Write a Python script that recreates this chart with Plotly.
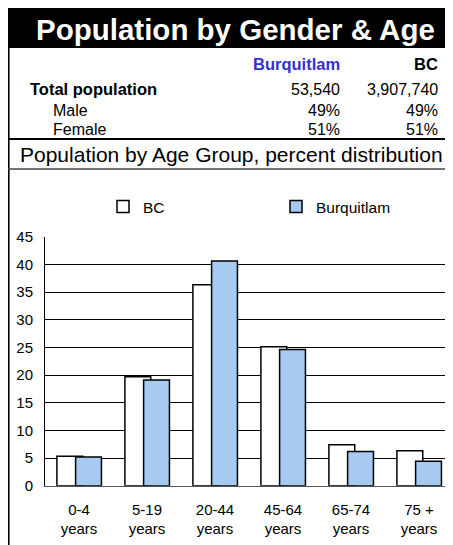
import plotly.graph_objects as go

# page has an 8px body margin, so the figure is sized/positioned to compensate
OFF = 8
PAGE_W, PAGE_H = 453, 545
W, H = PAGE_W - OFF, PAGE_H - OFF

age_groups = ["0-4<br>years", "5-19<br>years", "20-44<br>years", "45-64<br>years", "65-74<br>years", "75 +<br>years"]
bc_values = [5.3, 19.7, 36.3, 25.1, 7.4, 6.3]
burq_values = [5.2, 19.1, 40.6, 24.6, 6.2, 4.4]

table_cols = ["Burquitlam", "BC"]
table_rows = ["Total population", "Male", "Female"]
burq_table = ["53,540", "49%", "51%"]
bc_table = ["3,907,740", "49%", "51%"]

title = "Population by Gender & Age"
subtitle = "Population by Age Group, percent distribution"

FONT = "Arial, 'Liberation Sans', sans-serif"
BLUE = "#A6CAF0"


def px(x):
    return (x - OFF) / W


def py(y):
    return 1 - (y - OFF) / H


fig = go.Figure()
fig.add_trace(go.Bar(
    name="BC", x=age_groups, y=bc_values,
    marker=dict(color="white", line=dict(color="black", width=1.5)),
    width=0.38, offset=-0.325,
))
fig.add_trace(go.Bar(
    name="Burquitlam", x=age_groups, y=burq_values,
    marker=dict(color=BLUE, line=dict(color="black", width=1.5)),
    width=0.38, offset=-0.05,
))

shapes = [
    # black title band
    dict(type="rect", xref="paper", yref="paper", x0=px(8), x1=px(PAGE_W + 2), y0=py(48), y1=py(8),
         fillcolor="black", line=dict(width=0), layer="below"),
    # left border
    dict(type="line", xref="paper", yref="paper", x0=px(8.8), x1=px(8.8), y0=py(48), y1=py(PAGE_H + 2),
         line=dict(color="black", width=1.6)),
    # separators
    dict(type="line", xref="paper", yref="paper", x0=px(8), x1=px(PAGE_W + 2), y0=py(139), y1=py(139),
         line=dict(color="black", width=2)),
    dict(type="line", xref="paper", yref="paper", x0=px(8), x1=px(PAGE_W + 2), y0=py(169), y1=py(169),
         line=dict(color="#444444", width=1.5)),
]

ann = []
ann.append(dict(text="<b>" + title + "</b>", x=px(236), y=py(29), xref="paper", yref="paper",
                showarrow=False, xanchor="center", yanchor="middle",
                font=dict(family=FONT, size=29.5, color="white")))
# table headers
ann.append(dict(text="<b>" + table_cols[0] + "</b>", x=px(342), y=py(64), xref="paper", yref="paper",
                showarrow=False, xanchor="right", yanchor="middle",
                font=dict(family=FONT, size=16.5, color="#3333CC")))
ann.append(dict(text="<b>" + table_cols[1] + "</b>", x=px(440), y=py(64), xref="paper", yref="paper",
                showarrow=False, xanchor="right", yanchor="middle",
                font=dict(family=FONT, size=16.5, color="black")))
row_y = [89, 110, 129]
row_x = [28, 51, 51]
for i, r in enumerate(table_rows):
    label = "<b>" + r + "</b>" if i == 0 else r
    ann.append(dict(text=label, x=px(row_x[i]), y=py(row_y[i]), xref="paper", yref="paper",
                    showarrow=False, xanchor="left", yanchor="middle",
                    font=dict(family=FONT, size=16.5 if i == 0 else 16, color="black")))
    ann.append(dict(text=burq_table[i], x=px(342), y=py(row_y[i]), xref="paper", yref="paper",
                    showarrow=False, xanchor="right", yanchor="middle",
                    font=dict(family=FONT, size=16, color="black")))
    ann.append(dict(text=bc_table[i], x=px(440), y=py(row_y[i]), xref="paper", yref="paper",
                    showarrow=False, xanchor="right", yanchor="middle",
                    font=dict(family=FONT, size=16, color="black")))
ann.append(dict(text=subtitle, x=px(231.5), y=py(154), xref="paper", yref="paper",
                showarrow=False, xanchor="center", yanchor="middle",
                font=dict(family=FONT, size=21, color="black")))

fig.update_layout(
    template="none",
    width=W, height=H,
    autosize=False,
    margin=dict(l=0, r=0, t=0, b=0, pad=0, autoexpand=False),
    paper_bgcolor="white", plot_bgcolor="white",
    barmode="overlay",
    showlegend=True,
    legend=dict(orientation="h", x=px(103), y=py(207), xanchor="left", yanchor="middle",
                font=dict(family=FONT, size=15.5, color="black"),
                entrywidth=128, entrywidthmode="pixels", itemwidth=30,
                bgcolor="rgba(0,0,0,0)", borderwidth=0, traceorder="normal"),
    xaxis=dict(domain=[px(45), 1.0], range=[-0.5, 5.5], type="category", automargin=False,
               showline=True, linecolor="#555555", linewidth=1, showgrid=False, zeroline=False,
               ticks="", ticklabelstandoff=10,
               tickfont=dict(family=FONT, size=15, color="black")),
    yaxis=dict(domain=[py(485.7), py(236.7)], range=[0, 45], dtick=5, automargin=False,
               showline=True, linecolor="black", linewidth=1, zeroline=False,
               showgrid=True, gridcolor="black", gridwidth=1,
               ticks="", ticklabelstandoff=8,
               tickfont=dict(family=FONT, size=15, color="black")),
    shapes=shapes,
    annotations=ann,
    font=dict(family=FONT),
)

fig.write_html("out.html")
